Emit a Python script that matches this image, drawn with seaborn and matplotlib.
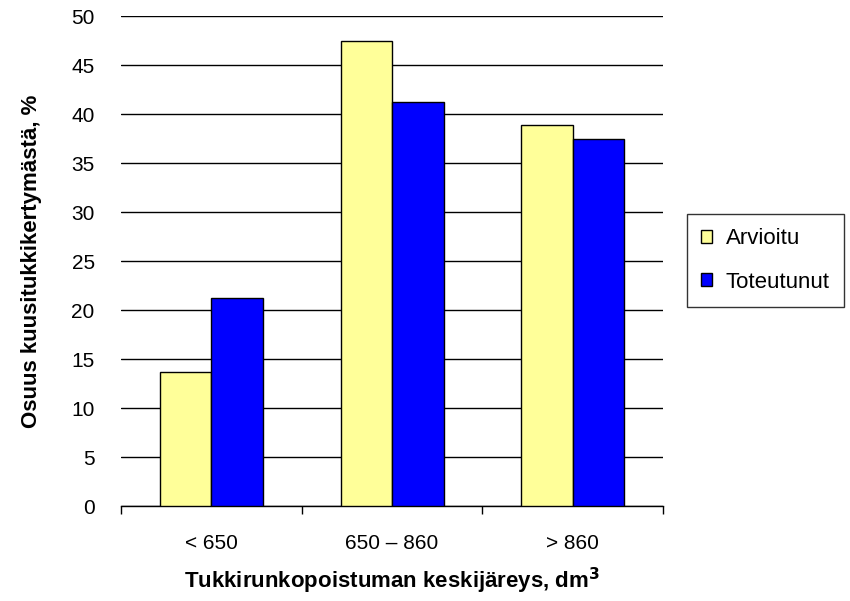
import matplotlib
matplotlib.use("Agg")
import matplotlib.pyplot as plt
import pandas as pd
import seaborn as sns

# data
categories = ['< 650', '650 – 860', '> 860']
arvioitu = [13.7, 47.5, 38.9]
toteutunut = [21.2, 41.2, 37.5]
series = ['Arvioitu', 'Toteutunut']
colors = ['#FFFF99', '#0000FF']

df = pd.DataFrame({
    'luokka': categories * 2,
    'osuus': arvioitu + toteutunut,
    'sarja': [series[0]] * 3 + [series[1]] * 3,
})

sns.set_style('white')
plt.rcParams['font.family'] = ['Liberation Sans', 'DejaVu Sans']
plt.rcParams['text.color'] = 'black'
plt.rcParams['axes.labelcolor'] = 'black'
plt.rcParams['xtick.color'] = 'black'
plt.rcParams['ytick.color'] = 'black'

fig = plt.figure(figsize=(8.5, 6.01), dpi=100)
ax = fig.add_axes([0.1424, 0.158, 0.6376, 0.8153])

sns.barplot(data=df, x='luokka', y='osuus', hue='sarja', palette=colors,
            saturation=1, width=0.57, edgecolor='black', linewidth=1,
            ax=ax, zorder=3)

ax.set_ylim(0, 50)
ax.set_yticks(range(0, 51, 5))
ax.set_xlim(-0.5, 2.5)
ax.yaxis.grid(True, color='black', linewidth=1, zorder=0)
ax.set_axisbelow(True)
for s in ['top', 'right', 'left']:
    ax.spines[s].set_visible(False)
ax.spines['bottom'].set_color('black')
ax.spines['bottom'].set_linewidth(1)

# x ticks between categories, labels centred
ax.set_xticks([-0.5, 0.5, 1.5, 2.5])
ax.set_xticklabels([])
ax.set_xticks([0, 1, 2], minor=True)
ax.set_xticklabels(categories, minor=True, fontsize=15)
ax.tick_params(axis='x', which='major', length=6, width=1, color='black', bottom=True)
ax.tick_params(axis='x', which='minor', length=0, pad=20)
ax.tick_params(axis='y', length=0, pad=19, labelsize=15)

ax.set_xlabel('Tukkirunkopoistuman keskijäreys, dm$^\\mathbf{3}$',
              fontsize=16, fontweight='bold', labelpad=9)
ax.set_ylabel('Osuus kuusitukkikertymästä, %', fontsize=16,
              fontweight='bold', labelpad=21)

leg = ax.legend(loc='upper left', bbox_to_anchor=(1.044, 0.596), frameon=True,
                fancybox=False, edgecolor='black', fontsize=16,
                handlelength=0.5, handleheight=0.5, handletextpad=0.6,
                labelspacing=1.0, borderpad=0.65, borderaxespad=0)
leg.get_frame().set_linewidth(1)

fig.savefig('out.png', dpi=100)
